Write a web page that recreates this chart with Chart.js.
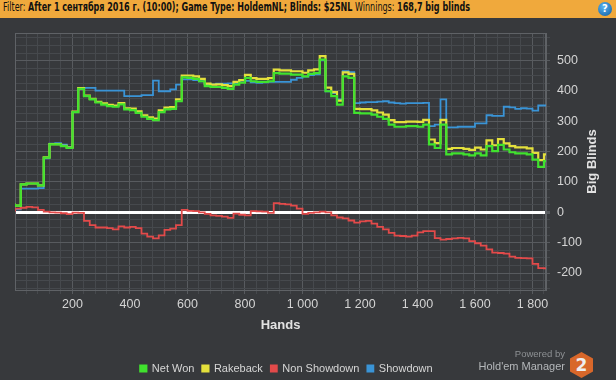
<!DOCTYPE html>
<html><head><meta charset="utf-8">
<script src="https://cdn.jsdelivr.net/npm/chart.js@4.4.1/dist/chart.umd.min.js"></script>
<style>
html,body{margin:0;padding:0;background:#37393c;width:616px;height:380px;overflow:hidden;}
#hdr{position:absolute;left:0;top:0;width:616px;height:18px;background:#f0a93c;z-index:2;}
#hdr .t{position:absolute;left:3px;top:0;line-height:18px;font:12px "DejaVu Sans",sans-serif;color:#111;white-space:nowrap;transform-origin:0 50%;}
#hdr b{font-weight:bold;}
#help{position:absolute;left:598px;top:2px;width:14px;height:14px;border-radius:50%;background:radial-gradient(circle at 40% 35%,#5ab4f0,#0d5aa0);color:#fff;font:bold 10px "DejaVu Sans",sans-serif;text-align:center;line-height:14px;}
#c{position:absolute;left:0;top:0;}
#pw{position:absolute;right:51px;top:348px;text-align:right;color:#8e9194;font:9.5px "Liberation Sans",sans-serif;line-height:11px;}
#pw .m{color:#b4b7ba;font-size:11px;line-height:14px;}
#logo{position:absolute;left:570px;top:352px;width:23px;height:26px;background:#d8672a;clip-path:polygon(50% 0,100% 25%,100% 75%,50% 100%,0 75%,0 25%);color:#eee;font:bold 17px "DejaVu Sans",sans-serif;text-align:center;line-height:26px;}
</style></head>
<body>
<canvas id="c" width="616" height="380"></canvas>
<div id="hdr"><span class="t" id="ht">Filter: <b>After 1 сентября 2016 г. (10:00); Game Type: HoldemNL; Blinds: $25NL</b> Winnings: <b>168,7 big blinds</b></span><div id="help">?</div></div>
<div id="pw">Powered by<br><span class="m">Hold'em Manager</span></div>
<div id="logo">2</div>
<script>
// fit header text to the width it takes in the reference
(function(){ const t = document.getElementById('ht'); const w = t.getBoundingClientRect().width; if (w > 0) t.style.transform = 'scaleX(' + (467 / w) + ')'; })();

// Hand numbers (x positions)
const hands = [0,20,40,60,80,100,120,140,160,180,200,220,240,260,280,300,320,340,360,380,400,420,440,460,480,500,520,540,560,580,600,620,640,660,680,700,720,740,760,780,800,820,840,860,880,900,920,940,960,980,1000,1020,1040,1060,1080,1100,1120,1140,1160,1180,1200,1220,1240,1260,1280,1300,1320,1340,1360,1380,1400,1420,1440,1460,1480,1500,1520,1540,1560,1580,1600,1620,1640,1660,1680,1700,1720,1740,1760,1780,1800,1820,1840,1847];

const netWon = [28,22,92,95,95,89,180,224,224,218,212,330,407,383,372,362,355,350,348,356,339,337,328,315,308,304,330,339,341,366,445,443,440,432,416,413,413,410,407,421,427,443,432,430,430,432,459,457,457,454,454,448,456,459,503,399,383,355,448,443,328,326,326,322,315,308,289,282,282,284,284,282,289,224,212,289,191,194,194,191,188,194,188,218,202,222,207,198,194,194,191,174,150,169];

const rakeback = [28,22,92,95,95,89,181,225,225,219,213,332,409,385,374,364,359,354,352,360,343,342,333,320,313,309,336,345,347,372,451,451,448,440,424,421,422,419,416,430,436,453,442,440,440,442,470,468,468,465,465,460,468,471,515,411,396,368,461,456,341,340,340,336,329,322,304,297,297,299,299,298,305,240,228,305,209,212,212,209,206,213,207,237,221,241,227,218,214,214,211,196,172,191];

const nonShowdown = [3,12,15,18,16,8,2,0,-1,-3,-6,-1,-2,-28,-42,-50,-50,-52,-56,-46,-50,-48,-52,-70,-80,-86,-76,-58,-54,-42,8,5,4,0,-5,-10,-12,-14,-18,-4,-8,-10,4,3,2,-2,30,28,26,22,12,-5,-2,0,2,0,-10,-17,-20,-27,-34,-30,-28,-37,-48,-56,-68,-77,-78,-80,-77,-66,-62,-62,-85,-90,-88,-86,-84,-86,-95,-102,-110,-122,-133,-134,-136,-146,-150,-151,-152,-170,-184,-185];

const showdown = [15,10,78,78,78,80,178,226,228,223,215,330,410,410,410,401,401,401,401,401,383,383,383,386,386,434,399,399,405,421,438,438,436,432,421,422,424,424,425,425,434,433,428,427,428,430,430,430,430,437,443,447,452,455,501,399,393,372,465,462,360,362,363,363,365,366,362,360,358,360,360,360,361,284,289,372,280,280,282,282,282,293,293,320,318,318,348,346,341,343,342,335,352,352];

const seriesNames = ['Net Won','Rakeback','Non Showdown','Showdown'];
const seriesColors = ['#40e22e','#e4e03c','#e24a4a','#3a94d6'];

const xTickValues = []; for (let v = 40; v <= 1840; v += 40) xTickValues.push(v);
const yTickValues = []; for (let v = -250; v <= 575; v += 25) yTickValues.push(v);

const FONT = '"Liberation Sans",Arial,sans-serif';
const minor = '#46494d', major = '#585b5f', frame = '#5f6266';

const toPts = arr => hands.map((h, i) => ({x: h, y: arr[i]}));
const allSeries = [netWon, rakeback, nonShowdown, showdown];

const frameAndTitle = {
  id: 'frameAndTitle',
  beforeDatasetsDraw(chart) {
    const {ctx, chartArea: a} = chart;
    ctx.save();
    ctx.strokeStyle = frame; ctx.lineWidth = 1;
    ctx.strokeRect(Math.round(a.left) + 0.5, Math.round(a.top) + 0.5, Math.round(a.right - a.left) - 1, Math.round(a.bottom - a.top));
    ctx.restore();
  },
  afterDraw(chart) {
    const {ctx, chartArea: a} = chart;
    ctx.save();
    ctx.translate(592, (a.top + a.bottom) / 2);
    ctx.rotate(-Math.PI / 2);
    ctx.font = 'bold 13px ' + FONT;
    ctx.fillStyle = '#e2e2e2';
    ctx.textAlign = 'center'; ctx.textBaseline = 'middle';
    ctx.fillText('Big Blinds', 0, 0);
    ctx.restore();
  }
};
const legendShift = {
  id: 'legendShift',
  afterLayout(chart) {
    const l = chart.legend; const dx = 6, dy = 4;
    l.left += dx; l.right += dx; l.top += dy; l.bottom += dy;
  }
};

new Chart(document.getElementById('c'), {
  type: 'line',
  data: {
    datasets: allSeries.map((arr, i) => ({
      label: seriesNames[i],
      data: toPts(arr),
      borderColor: seriesColors[i],
      backgroundColor: seriesColors[i],
      borderWidth: i < 2 ? 2.2 : 1.8,
      pointRadius: 0,
      stepped: 'after',
      fill: false
    }))
  },
  options: {
    responsive: false,
    animation: false,
    devicePixelRatio: 1,
    layout: {padding: {left: 15, top: 33, right: 0, bottom: 0}},
    plugins: {
      tooltip: {enabled: false},
      legend: {
        position: 'bottom', fullSize: false,
        labels: {boxWidth: 6, boxHeight: 6, padding: 8, color: '#d6d6d6', font: {family: FONT, size: 11}}
      }
    },
    scales: {
      x: {
        type: 'linear', min: 0, max: 1847,
        afterBuildTicks: s => { s.ticks = xTickValues.map(v => ({value: v})); },
        afterFit: s => { s.height = 61; },
        ticks: {
          autoSkip: false, maxRotation: 0, padding: 3, color: '#d4d4d4', font: {family: FONT, size: 12.5},
          callback: v => v % 200 === 0 ? String(v).replace(/\B(?=(\d{3})+(?!\d))/g, ' ') : ''
        },
        grid: {
          color: c => (c.tick && c.tick.value % 200 === 0) ? major : minor,
          tickColor: c => (c.tick && c.tick.value % 200 === 0) ? major : minor,
          tickLength: 4
        },
        border: {color: frame},
        title: {display: true, text: 'Hands', color: '#e2e2e2', font: {family: FONT, size: 13, weight: 'bold'}, padding: {top: 0, bottom: 18}}
      },
      y: {
        position: 'right', min: -256, max: 591,
        afterBuildTicks: s => { s.ticks = yTickValues.map(v => ({value: v})); },
        afterFit: s => { s.width = 70; },
        ticks: {
          autoSkip: false, padding: 7, color: '#d4d4d4', font: {family: FONT, size: 12.5},
          callback: v => v % 100 === 0 ? String(v) : ''
        },
        grid: {
          color: c => (c.tick && c.tick.value === 0) ? '#ffffff' : ((c.tick && c.tick.value % 100 === 0) ? major : minor),
          lineWidth: c => (c.tick && c.tick.value === 0) ? 3 : 1,
          tickColor: c => (c.tick && c.tick.value % 100 === 0) ? major : minor,
          tickLength: 4
        },
        border: {color: frame}
      }
    }
  },
  plugins: [frameAndTitle, legendShift]
});
</script>
</body></html>
